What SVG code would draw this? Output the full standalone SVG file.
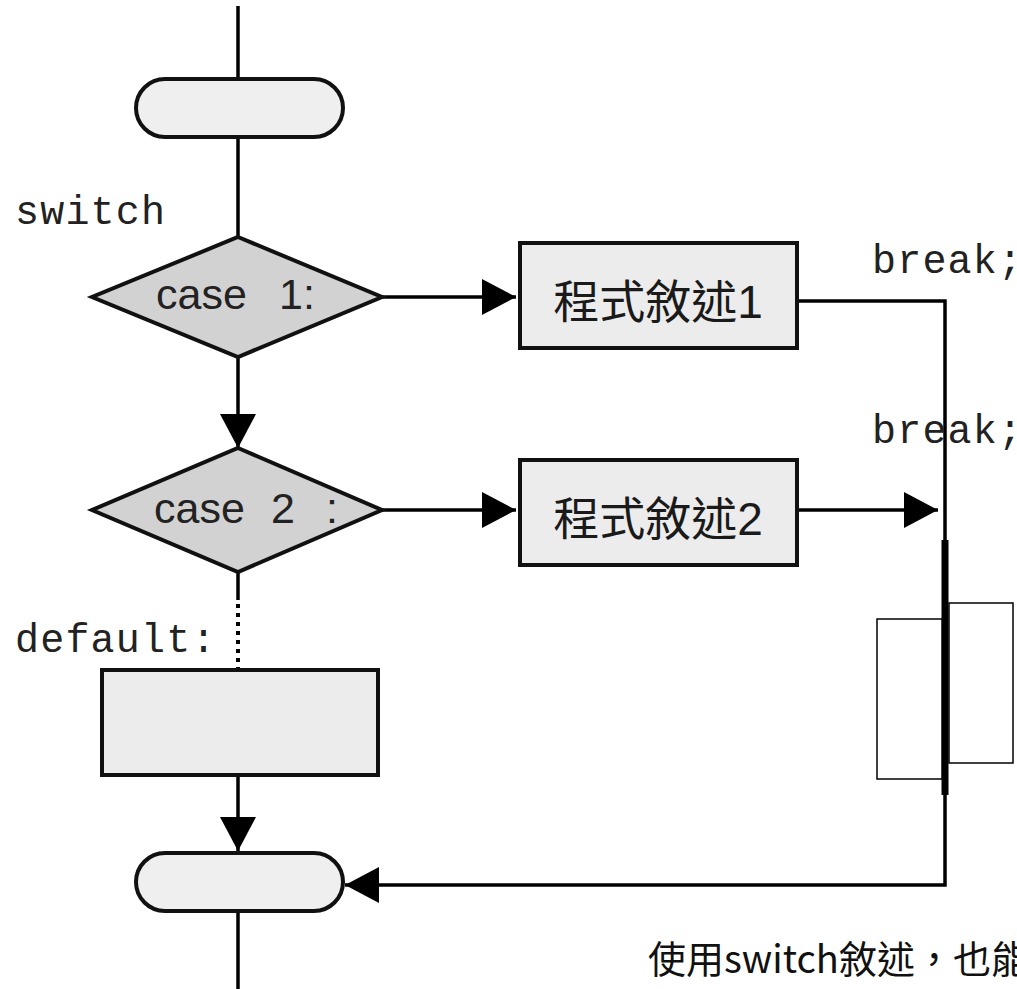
<svg xmlns="http://www.w3.org/2000/svg" width="1017" height="989" viewBox="0 0 1017 989">
<style>
.ln{stroke:#000;stroke-width:3.5;fill:none}
.box{fill:#ececec;stroke:#111;stroke-width:4}
.dia{fill:#d2d2d2;stroke:#111;stroke-width:4;stroke-linejoin:miter}
.term{fill:#efefef;stroke:#111;stroke-width:4}
.mono{font-family:"Liberation Mono","DejaVu Sans Mono",monospace;font-size:40px;letter-spacing:1.2px;fill:#222}
.cs{font-family:"Liberation Sans",Arial,sans-serif;font-size:43px;fill:#222}
.cjk{font-family:"Liberation Sans","Noto Sans CJK TC",sans-serif;font-size:46px;fill:#1a1a1a}
.cap{font-family:"Noto Sans CJK TC",sans-serif;font-size:38px;fill:#111}
</style>
<defs>
<marker id="ah" markerUnits="userSpaceOnUse" markerWidth="34" markerHeight="36" refX="34" refY="18" orient="auto">
<path d="M0,0 L34,18 L0,36 Z" fill="#000"/>
</marker>
</defs>
<g id="connectors">
<line class="ln" x1="238" y1="6" x2="238" y2="79"/>
<line class="ln" x1="238" y1="137" x2="238" y2="237"/>
<line class="ln" x1="382" y1="297" x2="516" y2="297" marker-end="url(#ah)"/>
<line class="ln" x1="238" y1="357" x2="238" y2="448" marker-end="url(#ah)"/>
<line class="ln" x1="382" y1="510" x2="516" y2="510" marker-end="url(#ah)"/>
<polyline class="ln" points="797,301 945,301 945,885 345,885" marker-end="url(#ah)"/>
<line class="ln" x1="797" y1="510" x2="938" y2="510" marker-end="url(#ah)"/>
<line class="ln" x1="238" y1="572" x2="238" y2="600"/>
<line x1="238" y1="604" x2="238" y2="668" stroke="#000" stroke-width="4" stroke-dasharray="4,5"/>
<line class="ln" x1="238" y1="775" x2="238" y2="851" marker-end="url(#ah)"/>
<line class="ln" x1="238" y1="911" x2="238" y2="989"/>
</g>
<g id="start">
<rect class="term" x="136" y="79" width="207" height="58" rx="29" ry="29"/>
</g>
<g id="switch-label"><text class="mono" x="15" y="224">switch</text></g>
<g id="case1">
<polygon class="dia" points="238,237 382,297 238,357 92,297"/>
<text class="cs" y="309"><tspan x="156">case</tspan><tspan x="279">1</tspan><tspan x="303">:</tspan></text>
</g>
<g id="stmt1">
<rect class="box" x="520" y="243" width="277" height="105"/>
<text class="cjk" x="658" y="318" text-anchor="middle">程式敘述1</text>
</g>
<g id="break1"><text class="mono" x="872" y="273">break;</text></g>
<g id="break2"><text class="mono" x="872" y="443">break;</text></g>
<g id="case2">
<polygon class="dia" points="238,448 382,510 238,572 92,510"/>
<text class="cs" y="523"><tspan x="154">case</tspan><tspan x="271">2</tspan><tspan x="326">:</tspan></text>
</g>
<g id="stmt2">
<rect class="box" x="520" y="460" width="277" height="105"/>
<text class="cjk" x="658" y="535" text-anchor="middle">程式敘述2</text>
</g>
<g id="default-label"><text class="mono" x="15" y="652">default:</text></g>
<g id="default-box">
<rect class="box" x="102" y="670" width="276" height="105"/>
</g>
<g id="end">
<rect class="term" x="136" y="853" width="207" height="58" rx="29" ry="29"/>
</g>
<g id="overlay">
<line x1="945" y1="540" x2="945" y2="795" stroke="#000" stroke-width="7"/>
<rect x="877" y="619" width="65" height="160" fill="#fff" stroke="#000" stroke-width="1.5"/>
<rect x="949" y="603" width="64" height="160" fill="#fff" stroke="#000" stroke-width="1.5"/>
</g>
<g id="caption"><text class="cap" x="648" y="973">使用switch敘述，也能夠</text></g>
</svg>
